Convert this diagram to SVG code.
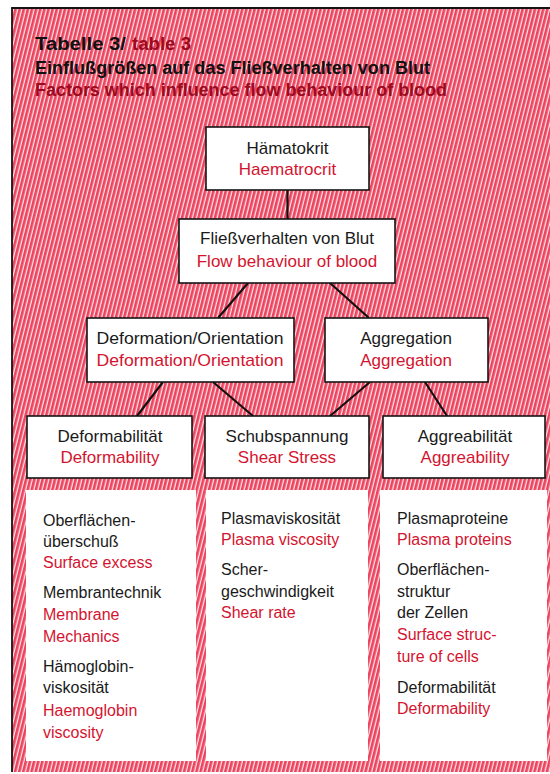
<svg xmlns="http://www.w3.org/2000/svg" width="550" height="774" viewBox="0 0 550 774">
  <defs>
    <pattern id="hatch" patternUnits="userSpaceOnUse" width="4" height="40" patternTransform="rotate(14)">
      <rect x="0" y="0" width="4" height="40" fill="#ffe6ea"/>
      <rect x="0" y="0" width="2.7" height="40" fill="#ec445e"/>
    </pattern>
    <style>
      .box { fill: #ffffff; stroke: #141414; stroke-width: 1.6; }
      .panel { fill: #ffffff; }
      .t { font-family: "Liberation Sans", Arial, sans-serif; font-size: 17px; fill: #1a1a1a; }
      .r { font-family: "Liberation Sans", Arial, sans-serif; font-size: 17px; fill: #d4142f; }
      .c { text-anchor: middle; }
      .pt { font-family: "Liberation Sans", Arial, sans-serif; font-size: 16px; fill: #1a1a1a; }
      .pr { font-family: "Liberation Sans", Arial, sans-serif; font-size: 16px; fill: #d4142f; }
      .h { font-family: "Liberation Sans", Arial, sans-serif; font-size: 17.5px; font-weight: bold; }
      .hb { fill: #111111; }
      .hr { fill: #9c0a20; }
      .conn { stroke: #111111; stroke-width: 2.2; fill: none; }
    </style>
  </defs>

  <rect x="0" y="0" width="550" height="774" fill="#ffffff"/>
  <g id="frame">
    <rect x="12" y="8" width="538" height="764" fill="url(#hatch)"/>
    <path d="M12,772 L12,8 L550,8" fill="none" stroke="#141414" stroke-width="1.8"/>
  </g>

  <g id="title">
    <text class="h" x="35" y="50"><tspan class="hb" textLength="91" lengthAdjust="spacingAndGlyphs">Tabelle 3/</tspan><tspan class="hr" x="132" textLength="59" lengthAdjust="spacingAndGlyphs">table 3</tspan></text>
    <text class="h hb" x="35" y="74" textLength="395" lengthAdjust="spacingAndGlyphs">Einflußgrößen auf das Fließverhalten von Blut</text>
    <text class="h hr" x="35" y="96" textLength="412" lengthAdjust="spacingAndGlyphs">Factors which influence flow behaviour of blood</text>
  </g>

  <g id="connectors">
    <line class="conn" x1="287.5" y1="190" x2="287.5" y2="219"/>
    <line class="conn" x1="248" y1="283" x2="218" y2="318"/>
    <line class="conn" x1="330" y1="283" x2="369" y2="318"/>
    <line class="conn" x1="163" y1="382" x2="137" y2="416"/>
    <line class="conn" x1="213" y1="382" x2="253" y2="416"/>
    <line class="conn" x1="370" y1="382" x2="330" y2="416"/>
    <line class="conn" x1="425" y1="382" x2="447" y2="416"/>
  </g>

  <g id="haematokrit">
    <rect class="box" x="206" y="127" width="163" height="63"/>
    <text class="t c" x="287.5" y="154">Hämatokrit</text>
    <text class="r c" x="287.5" y="175">Haematrocrit</text>
  </g>

  <g id="fliessverhalten">
    <rect class="box" x="179" y="219" width="216" height="64"/>
    <text class="t c" x="287" y="244">Fließverhalten von Blut</text>
    <text class="r c" x="287" y="267">Flow behaviour of blood</text>
  </g>

  <g id="deformation">
    <rect class="box" x="87" y="318" width="207" height="64"/>
    <text class="t c" x="190" y="344" textLength="187" lengthAdjust="spacingAndGlyphs">Deformation/Orientation</text>
    <text class="r c" x="190" y="366" textLength="187" lengthAdjust="spacingAndGlyphs">Deformation/Orientation</text>
  </g>

  <g id="aggregation">
    <rect class="box" x="325" y="318" width="163" height="64"/>
    <text class="t c" x="406" y="344">Aggregation</text>
    <text class="r c" x="406" y="366">Aggregation</text>
  </g>

  <g id="deformabilitaet">
    <rect class="box" x="27" y="416" width="165" height="62"/>
    <text class="t c" x="110" y="442">Deformabilität</text>
    <text class="r c" x="110" y="463">Deformability</text>
  </g>

  <g id="schubspannung">
    <rect class="box" x="205" y="416" width="164" height="62"/>
    <text class="t c" x="287" y="442">Schubspannung</text>
    <text class="r c" x="287" y="463">Shear Stress</text>
  </g>

  <g id="aggreabilitaet">
    <rect class="box" x="383" y="416" width="162" height="62"/>
    <text class="t c" x="465" y="442">Aggreabilität</text>
    <text class="r c" x="465" y="463">Aggreability</text>
  </g>

  <g id="panel-left">
    <rect class="panel" x="26" y="490" width="170" height="271"/>
    <text class="pt" x="43" y="526">Oberflächen-</text>
    <text class="pt" x="43" y="547">überschuß</text>
    <text class="pr" x="43" y="568">Surface excess</text>
    <text class="pt" x="43" y="598">Membrantechnik</text>
    <text class="pr" x="43" y="620">Membrane</text>
    <text class="pr" x="43" y="642">Mechanics</text>
    <text class="pt" x="43" y="672">Hämoglobin-</text>
    <text class="pt" x="43" y="693">viskosität</text>
    <text class="pr" x="43" y="716">Haemoglobin</text>
    <text class="pr" x="43" y="738">viscosity</text>
  </g>

  <g id="panel-middle">
    <rect class="panel" x="206" y="490" width="162" height="271"/>
    <text class="pt" x="221" y="524">Plasmaviskosität</text>
    <text class="pr" x="221" y="545">Plasma viscosity</text>
    <text class="pt" x="221" y="575">Scher-</text>
    <text class="pt" x="221" y="597">geschwindigkeit</text>
    <text class="pr" x="221" y="618">Shear rate</text>
  </g>

  <g id="panel-right">
    <rect class="panel" x="380" y="490" width="167" height="271"/>
    <text class="pt" x="397" y="524">Plasmaproteine</text>
    <text class="pr" x="397" y="545">Plasma proteins</text>
    <text class="pt" x="397" y="575">Oberflächen-</text>
    <text class="pt" x="397" y="597">struktur</text>
    <text class="pt" x="397" y="618">der Zellen</text>
    <text class="pr" x="397" y="640">Surface struc-</text>
    <text class="pr" x="397" y="662">ture of cells</text>
    <text class="pt" x="397" y="693">Deformabilität</text>
    <text class="pr" x="397" y="714">Deformability</text>
  </g>
</svg>
